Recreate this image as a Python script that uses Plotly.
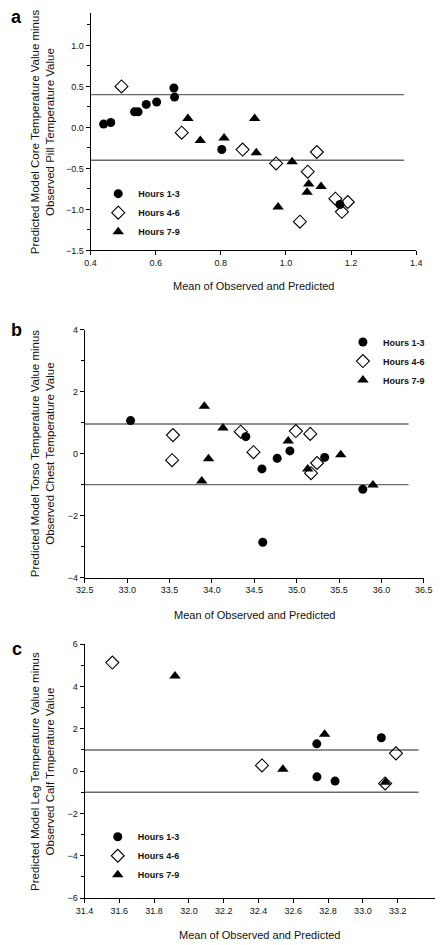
import plotly.graph_objects as go

W, H = 445, 945

# ---------------- data ----------------
series_names = ["Hours 1-3", "Hours 4-6", "Hours 7-9"]

# Panel a (core vs pill)
circ_a_x = [0.44, 0.462, 0.535, 0.546, 0.571, 0.603, 0.656, 0.658, 0.803, 1.166]
circ_a_y = [0.04, 0.06, 0.19, 0.19, 0.28, 0.31, 0.48, 0.37, -0.27, -0.94]
diam_a_x = [0.495, 0.68, 0.867, 1.095, 0.97, 1.067, 1.043, 1.152, 1.172, 1.19]
diam_a_y = [0.50, -0.065, -0.27, -0.30, -0.44, -0.54, -1.15, -0.87, -1.03, -0.91]
tri_a_x = [0.699, 0.737, 0.81, 0.904, 0.909, 1.019, 1.07, 1.065, 1.108, 0.976]
tri_a_y = [0.11, -0.16, -0.13, 0.11, -0.31, -0.42, -0.69, -0.79, -0.72, -0.97]
loa_a = [0.40, -0.40]
loa_a_x = [0.40, 1.363]

# Panel b (torso vs chest)
circ_b_x = [33.04, 34.40, 34.59, 34.77, 34.92, 35.33, 34.60, 35.78]
circ_b_y = [1.07, 0.55, -0.49, -0.15, 0.09, -0.12, -2.86, -1.15]
diam_b_x = [33.54, 33.53, 34.34, 34.49, 34.99, 35.16, 35.17, 35.24]
diam_b_y = [0.60, -0.21, 0.71, 0.05, 0.73, 0.64, -0.63, -0.30]
tri_b_x = [33.91, 34.13, 33.96, 33.88, 34.90, 35.13, 35.52, 35.90]
tri_b_y = [1.53, 0.83, -0.16, -0.88, 0.41, -0.49, -0.03, -1.01]
loa_b = [0.96, -1.0]
loa_b_x = [32.5, 36.32]

# Panel c (leg vs calf)
circ_c_x = [32.735, 33.106, 32.736, 32.84]
circ_c_y = [1.29, 1.58, -0.27, -0.47]
diam_c_x = [31.56, 32.42, 33.19, 33.128]
diam_c_y = [5.13, 0.27, 0.84, -0.58]
tri_c_x = [31.92, 32.54, 32.78, 33.13]
tri_c_y = [4.50, 0.09, 1.74, -0.53]
loa_c = [1.0, -1.0]
loa_c_x = [31.4, 33.32]
ticks_c_x = [31.4, 31.6, 31.8, 32.0, 32.2, 32.4, 32.6, 32.8, 33.0, 33.2]

x_title = "Mean of Observed and Predicted"
y_titles = [
    "Predicted Model Core Temperature Value minus<br>Observed Pill Temperature Value",
    "Predicted Model Torso Temperature Value minus<br>Observed Chest Temperature Value",
    "Predicted Model Leg Temperature Value minus<br>Observed Calf Tmperature Value",
]
panel_letters = ["a", "b", "c"]

# ---------------- figure ----------------
FONT = "Liberation Sans, Arial, sans-serif"
fig = go.Figure()

marker_styles = [
    dict(symbol="circle", size=9, color="black", line=dict(width=0)),
    dict(symbol="diamond-open", size=10, color="black", line=dict(width=1.1, color="black")),
    dict(symbol="triangle-up", size=10, color="black", line=dict(width=0)),
]

panels = [
    ("x", "y", "legend", [(circ_a_x, circ_a_y), (diam_a_x, diam_a_y), (tri_a_x, tri_a_y)], loa_a, loa_a_x),
    ("x2", "y2", "legend2", [(circ_b_x, circ_b_y), (diam_b_x, diam_b_y), (tri_b_x, tri_b_y)], loa_b, loa_b_x),
    ("x3", "y3", "legend3", [(circ_c_x, circ_c_y), (diam_c_x, diam_c_y), (tri_c_x, tri_c_y)], loa_c, loa_c_x),
]

for xa, ya, lg, series, loa, loa_x in panels:
    for val in loa:
        fig.add_trace(go.Scatter(
            x=loa_x, y=[val, val], mode="lines", xaxis=xa, yaxis=ya,
            line=dict(color="#6a6a6a", width=1.4), showlegend=False, hoverinfo="skip"))
    for name, (sx, sy), ms in zip(series_names, series, marker_styles):
        fig.add_trace(go.Scatter(
            x=sx, y=sy, mode="markers", name=name, xaxis=xa, yaxis=ya,
            marker=ms, legend=lg, showlegend=True))

def px_x(p):
    return p / W

def px_y(p):
    return (H - p) / H

axis_common = dict(
    showline=True, linecolor="black", linewidth=1, showgrid=False, zeroline=False,
    ticks="outside", ticklen=4, tickwidth=1, tickcolor="black",
    tickfont=dict(family=FONT, size=9, color="#111"), mirror=False,
)

fig.update_layout(
    width=W, height=H, plot_bgcolor="white", paper_bgcolor="white",
    margin=dict(l=0, r=0, t=0, b=0),
    font=dict(family=FONT, color="#111"),
    xaxis=dict(axis_common, domain=[px_x(85), px_x(424.3)], range=[0.4, 1.4],
               dtick=0.2, tick0=0.4, tickformat=".1f", anchor="y"),
    yaxis=dict(axis_common, domain=[px_y(248), px_y(7.7)], range=[-1.5, 1.4],
               dtick=0.5, tick0=0, tickformat=".1f", anchor="x",
               minor=dict(dtick=0.25, ticks="outside", ticklen=2.5, tickcolor="black")),
    xaxis2=dict(axis_common, domain=[px_x(79), px_x(432.3)], range=[32.5, 36.5],
                dtick=0.5, tick0=32.5, tickformat=".1f", anchor="y2"),
    yaxis2=dict(axis_common, domain=[px_y(578.7), px_y(328.3)], range=[-4, 4],
                dtick=2, tick0=0, anchor="x2",
                minor=dict(dtick=1, ticks="outside", ticklen=2.5, tickcolor="black")),
    xaxis3=dict(axis_common, domain=[px_x(78.7), px_x(443.5)], range=[31.4, 33.412],
                tickvals=ticks_c_x, tickformat=".1f", anchor="y3"),
    yaxis3=dict(axis_common, domain=[px_y(902.7), px_y(646)], range=[-6, 6],
                dtick=2, tick0=0, anchor="x3",
                minor=dict(dtick=1, ticks="outside", ticklen=2.5, tickcolor="black")),
)

legend_common = dict(
    bgcolor="rgba(0,0,0,0)", borderwidth=0, xanchor="left", yanchor="top",
    font=dict(family=FONT, size=9, color="#111", weight="bold"),
    itemclick=False, tracegroupgap=0,
)
fig.update_layout(
    legend=dict(legend_common, x=px_x(93), y=px_y(176)),
    legend2=dict(legend_common, x=px_x(348), y=px_y(326)),
    legend3=dict(legend_common, x=px_x(92.5), y=px_y(826)),
)

annotations = []
x_title_pos = [(254.5, 284), (255.7, 617), (261, 940)]
y_title_pos = [(35, 128), (35, 453.5), (35, 774.5)]
letter_pos = [(8, 12), (8, 328), (8, 651)]
for i in range(3):
    annotations.append(dict(
        text=x_title, xref="paper", yref="paper", x=px_x(x_title_pos[i][0]), y=px_y(x_title_pos[i][1]),
        xanchor="center", yanchor="middle", showarrow=False,
        font=dict(family=FONT, size=11, color="#111")))
    annotations.append(dict(
        text=y_titles[i], xref="paper", yref="paper", x=px_x(y_title_pos[i][0]), y=px_y(y_title_pos[i][1]),
        xanchor="center", yanchor="middle", showarrow=False, textangle=-90,
        font=dict(family=FONT, size=11.5, color="#111")))
    annotations.append(dict(
        text="<b>%s</b>" % panel_letters[i], xref="paper", yref="paper",
        x=px_x(letter_pos[i][0]), y=px_y(letter_pos[i][1]),
        xanchor="center", yanchor="middle", showarrow=False,
        font=dict(family=FONT, size=18, color="black")))
fig.update_layout(annotations=annotations)

fig.write_html(
    "out.html",
    config={"displayModeBar": False},
    post_script="document.body.style.margin='0';document.body.style.overflow='hidden';",
)
